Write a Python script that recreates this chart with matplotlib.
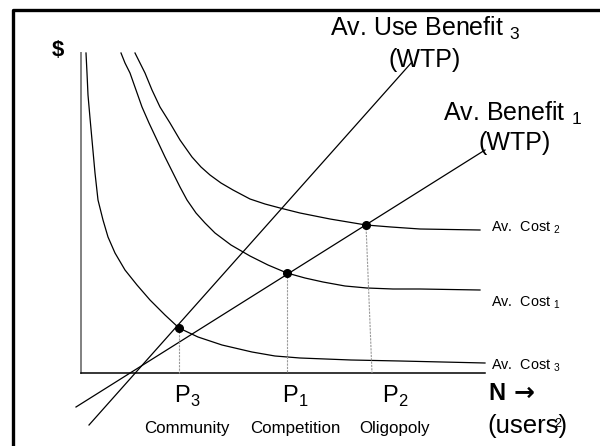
import matplotlib
matplotlib.use('Agg')
import matplotlib.pyplot as plt

plt.rcParams['font.family'] = ['Liberation Sans', 'DejaVu Sans']
plt.rcParams['mathtext.fontset'] = 'custom'
plt.rcParams['mathtext.rm'] = 'Liberation Sans'

# average cost curves (N users, $)
ac3_n = [5, 6, 7, 9, 11, 14, 17, 22, 27, 34, 44, 56, 69, 84, 98, 117, 141, 171, 194, 219, 270, 319, 404]
ac3_c = [320, 300, 278, 255, 233, 200, 173, 153, 136, 120, 103, 88, 73, 58, 45, 36, 28, 21, 17, 15, 13, 12, 10]
ac1_n = [40, 44, 49, 55, 61, 68, 76, 84, 92, 99, 106, 115, 124, 134, 150, 169, 187, 206, 224, 242, 264, 286, 312, 339, 399]
ac1_c = [320, 310, 300, 283, 266, 250, 233, 216, 200, 186, 173, 160, 150, 140, 128, 117, 108, 100, 95, 91, 87, 85, 84, 84, 83]
ac2_n = [54, 59, 64, 71, 79, 89, 99, 111, 120, 129, 140, 152, 169, 184, 199, 219, 249, 285, 310, 339, 399]
ac2_c = [320, 310, 300, 283, 266, 250, 233, 216, 206, 198, 190, 183, 174, 169, 165, 160, 154, 148, 146, 144, 143]

# willingness to pay lines (end points)
aub3_n = [8, 331]
aub3_c = [-52, 311]
ab1_n = [-5, 404]
ab1_c = [-34, 223]

# equilibria: P3, P1, P2
eq_n = [98, 206, 285]
eq_c = [45, 100, 148]
eq_foot = [98, 206, 291]
eq_labels = ['P$_\\mathrm{3}$', 'P$_\\mathrm{1}$', 'P$_\\mathrm{2}$']
eq_names = ['Community', 'Competition', 'Oligopoly']
label_n = [106, 214, 314]

AXIS_TOP = 320
AXIS_RIGHT = 404


def plot():
    fig = plt.figure(figsize=(6, 4.46), dpi=100)
    ax = fig.add_axes([0, 0, 1, 1])
    ax.set_xlim(-81, 519)
    ax.set_ylim(-73, 373)
    ax.axis('off')

    # slide frame
    ax.plot([-68, -68, 519], [-73, 363, 363], color='black', lw=2.4,
            solid_capstyle='projecting')

    # axes
    ax.plot([0, 0], [0, AXIS_TOP], color='#808080', lw=1.4)
    ax.plot([0, AXIS_RIGHT], [0, 0], color='black', lw=1.1)

    for n, c in [(ac3_n, ac3_c), (ac1_n, ac1_c), (ac2_n, ac2_c)]:
        ax.plot(n, c, color='black', lw=0.9, solid_joinstyle='round')

    ax.plot(aub3_n, aub3_c, color='black', lw=0.9)
    ax.plot(ab1_n, ab1_c, color='black', lw=0.9)

    for n, c, f in zip(eq_n, eq_c, eq_foot):
        ax.plot([n, f], [c, 0], color='#999999', lw=0.8, ls=(0, (2, 1)))
    ax.plot(eq_n, eq_c, 'o', color='black', ms=5.5)

    for n, lab, name in zip(label_n, eq_labels, eq_names):
        ax.text(n, -23, lab, fontsize=17, ha='center', va='center')
        ax.text(n, -56, name, fontsize=12.2, ha='center', va='center')

    ax.text(-23, 323, '$', fontsize=16, fontweight='bold', ha='center', va='center')

    ax.text(344, 345, 'Av. Use Benefit $_\\mathrm{3}$', fontsize=18, ha='center', va='center')
    ax.text(344, 313, '(WTP)', fontsize=18, ha='center', va='center')
    ax.text(362, 260, 'Av. Benefit $_\\mathrm{1}$', fontsize=18, ha='left', va='center')
    ax.text(434, 230, '(WTP)', fontsize=18, ha='center', va='center')

    ax.text(410, 145, 'Av.  Cost $_\\mathrm{2}$', fontsize=10.4, ha='left', va='center')
    ax.text(410, 70, 'Av.  Cost $_\\mathrm{1}$', fontsize=10.4, ha='left', va='center')
    ax.text(410, 7, 'Av.  Cost $_\\mathrm{3}$', fontsize=10.4, ha='left', va='center')

    ax.text(407, -20, 'N', fontsize=17, fontweight='bold', ha='left', va='center')
    ax.text(443, -20, '\u2192', fontsize=18, fontweight='bold', family='DejaVu Sans',
            ha='center', va='center')
    ax.text(406, -53, '(users)', fontsize=18.5, ha='left', va='center')
    ax.text(477, -51, '2', fontsize=9, ha='center', va='center')

    fig.savefig('out.png', dpi=100)
    plt.close(fig)


if __name__ == '__main__':
    plot()
